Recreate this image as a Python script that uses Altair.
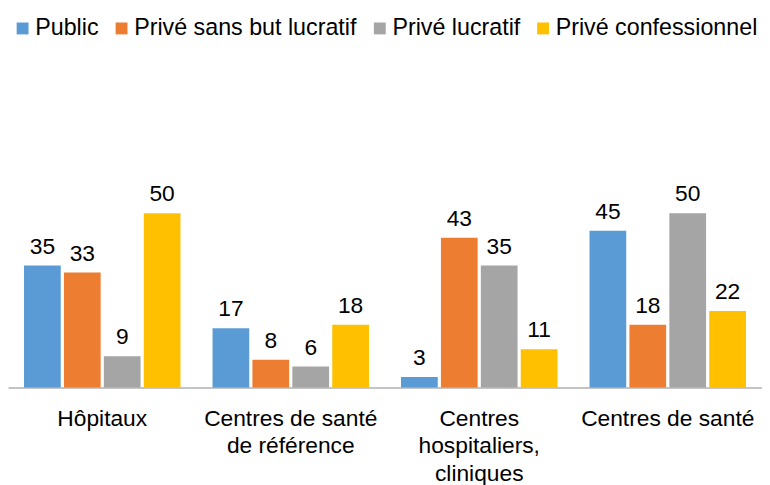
import json
import altair as alt
import pandas as pd

categories = ["Hôpitaux", "Centres de santé de référence",
              "Centres hospitaliers, cliniques", "Centres de santé"]
label_lines = [["Hôpitaux"], ["Centres de santé", "de référence"],
               ["Centres", "hospitaliers,", "cliniques"], ["Centres de santé"]]
series = ["Public", "Privé sans but lucratif", "Privé lucratif", "Privé confessionnel"]
public = [35, 17, 3, 45]
prive_sans_but = [33, 8, 43, 18]
prive_lucratif = [9, 6, 35, 50]
prive_confessionnel = [50, 18, 11, 22]
colors = ["#5B9BD5", "#ED7D31", "#A5A5A5", "#FFC000"]

rows = []
for i, c in enumerate(categories):
    for s, vals in zip(series, [public, prive_sans_but, prive_lucratif, prive_confessionnel]):
        rows.append({"cat": c, "series": s, "value": vals[i]})
df = pd.DataFrame(rows)

FONT = "Liberation Sans"

expr = "[datum.label]"
for c, lines in zip(categories, label_lines):
    expr = f"datum.label == {json.dumps(c, ensure_ascii=False)} ? {json.dumps(lines, ensure_ascii=False)} : ({expr})"

x = alt.X("cat:N", sort=categories,
          scale=alt.Scale(paddingInner=0.17, paddingOuter=0.085),
          axis=alt.Axis(title=None, labelAngle=0, ticks=False, domainColor="#898989",
                        domainWidth=1, labelFontSize=23, labelFont=FONT,
                        labelColor="#000000", labelPadding=20, labelLineHeight=28,
                        labelExpr=expr, labelLimit=0))
xo = alt.XOffset("series:N", sort=series, scale=alt.Scale(paddingInner=0.08))
y = alt.Y("value:Q", scale=alt.Scale(domain=[0, 108.24], nice=False, zero=True), axis=None)

bars = alt.Chart(df).mark_bar().encode(
    x=x, xOffset=xo, y=y,
    color=alt.Color("series:N", sort=series,
                    scale=alt.Scale(domain=series, range=colors),
                    legend=alt.Legend(orient="none", legendX=3, legendY=6,
                                      direction="horizontal", columns=4, title=None,
                                      symbolType="square", symbolSize=144,
                                      symbolStrokeWidth=0, labelFontSize=23.5,
                                      labelFont=FONT, labelColor="#000000",
                                      columnPadding=11, labelOffset=1, labelLimit=0)),
)

texts = alt.Chart(df).mark_text(dy=-12, baseline="alphabetic", fontSize=23,
                                font=FONT, color="#000000").encode(
    x=x, xOffset=xo, y=y, text="value:Q")

chart = (bars + texts).properties(
    width=762, height=381,
    autosize=alt.AutoSizeParams(type="none"),
    padding={"left": 0, "right": 0, "top": 0, "bottom": 96},
).configure_view(stroke=None)

chart.save("out.html", embed_options={"renderer": "svg", "actions": False})
